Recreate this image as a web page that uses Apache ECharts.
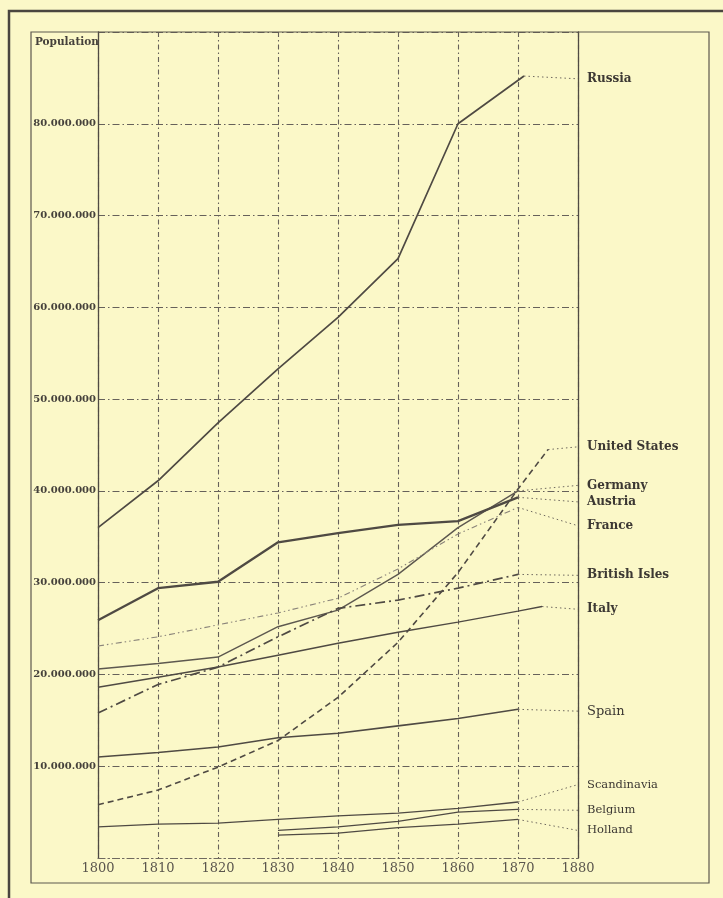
<!DOCTYPE html>
<html>
<head>
<meta charset="utf-8">
<script src="https://cdn.jsdelivr.net/npm/echarts@6/dist/echarts.min.js"></script>
<style>
  html, body { margin: 0; padding: 0; background: #fbf8c8; }
  #chart { width: 723px; height: 898px; }
</style>
</head>
<body>
<div id="chart"></div>
<script>
// Population of the principal states, 1800-1870 (millions)
const decades = [1800, 1810, 1820, 1830, 1840, 1850, 1860, 1870];
const laterDecades = [1830, 1840, 1850, 1860, 1870];

const russiaYears = [1800, 1810, 1820, 1830, 1840, 1850, 1860, 1871];
const russia = [36.0, 41.1, 47.4, 53.3, 58.9, 65.3, 80.0, 85.2];

const usYears = [1800, 1810, 1820, 1830, 1840, 1850, 1860, 1870, 1875];
const unitedStates = [5.8, 7.4, 9.9, 12.8, 17.5, 23.5, 31.1, 40.2, 44.5];

const germany = [20.6, 21.2, 21.9, 25.2, 27.0, 30.9, 36.0, 40.0];
const austria = [25.9, 29.4, 30.1, 34.4, 35.4, 36.3, 36.7, 39.3];
const france = [23.1, 24.1, 25.4, 26.7, 28.3, 31.5, 35.3, 38.2];
const britishIsles = [15.8, 18.9, 20.8, 24.1, 27.2, 28.1, 29.4, 30.9];

const italyYears = [1800, 1810, 1820, 1830, 1840, 1850, 1860, 1870, 1874];
const italy = [18.6, 19.7, 20.8, 22.1, 23.4, 24.6, 25.7, 26.9, 27.4];

const spain = [11.0, 11.5, 12.1, 13.1, 13.6, 14.4, 15.2, 16.2];
const scandinavia = [3.4, 3.7, 3.8, 4.2, 4.6, 4.9, 5.4, 6.1];
const belgium = [3.0, 3.4, 4.0, 5.0, 5.3];
const holland = [2.5, 2.7, 3.3, 3.7, 4.2];

// where each name sits in the right-hand margin (millions)
const labelNames = ['Russia', 'United States', 'Germany', 'Austria', 'France',
  'British Isles', 'Italy', 'Spain', 'Scandinavia', 'Belgium', 'Holland'];
const labelLevels = [84.9, 44.8, 40.6, 38.8, 36.2, 30.8, 27.1, 16.0, 8.0, 5.2, 3.0];

const yTicks = [0, 10, 20, 30, 40, 50, 60, 70, 80, 90];

const ink = '#4f4a43';
const soft = '#6f695f';
const serif = '"DejaVu Serif", "Liberation Serif", serif';

function pairs(xs, ys) { return xs.map((x, i) => [x, ys[i]]); }

function curve(xs, ys, lineStyle) {
  return {
    type: 'line', data: pairs(xs, ys), symbol: 'none', silent: true,
    animation: false, z: 4, lineStyle: Object.assign({ color: ink }, lineStyle)
  };
}

function leader(xs, ys, idx, lineType, bold, size) {
  const n = xs.length - 1;
  return {
    type: 'line', data: [[xs[n], ys[n]], [1880, labelLevels[idx]]],
    symbol: 'none', silent: true, animation: false, z: 3,
    lineStyle: { color: soft, width: 1, type: lineType || [1.5, 3] },
    endLabel: {
      show: true, formatter: labelNames[idx], distance: 9,
      fontFamily: serif, fontSize: size || 12, fontWeight: bold === false ? 'normal' : 'bold',
      color: '#3c3833'
    }
  };
}

function millionsText(v) {
  const s = String(Math.round(v * 1000000));
  return s.replace(/\B(?=(\d{3})+(?!\d))/g, '.');
}

const gridDash = [7, 3, 1.5, 3];

const chart = echarts.init(document.getElementById('chart'), null, { renderer: 'canvas' });
chart.setOption({
  backgroundColor: '#fbf8c8',
  animation: false,
  grid: { left: 98, right: 145, top: 32, bottom: 40 },
  xAxis: {
    type: 'value', min: 1800, max: 1880, interval: 10,
    axisLine: { show: true, lineStyle: { color: soft, width: 1.2, type: gridDash } },
    axisTick: { show: false },
    axisLabel: { color: '#5a554d', fontFamily: serif, fontSize: 13, margin: 4,
      formatter: v => String(v) },
    splitLine: { show: true, lineStyle: { color: '#66615a', width: 1.1, type: [5, 3, 1.5, 3] } }
  },
  yAxis: [{
    type: 'value', min: yTicks[0], max: yTicks[yTicks.length - 1], interval: 10,
    axisLine: { show: true, lineStyle: { color: ink, width: 1.3 } },
    axisTick: { show: false },
    axisLabel: {
      color: '#45413b', fontFamily: serif, fontSize: 10, fontWeight: 'bold', margin: 2,
      formatter: v => (v === 0 || v === 90) ? '' : millionsText(v)
    },
    splitLine: { show: true, lineStyle: { color: '#66615a', width: 1.1, type: gridDash } }
  }, {
    type: 'value', position: 'right', min: 0, max: 90, interval: 10,
    axisLine: { show: true, onZero: false, lineStyle: { color: ink, width: 1.3 } },
    axisTick: { show: false }, axisLabel: { show: false }, splitLine: { show: false }
  }],
  graphic: [
    { type: 'rect', shape: { x: 31, y: 32, width: 678, height: 851 },
      style: { fill: 'none', stroke: '#5d584f', lineWidth: 1.2 }, z: 10 },
    { type: 'polyline', shape: { points: [[9, 898], [9, 11], [723, 11]] },
      style: { fill: 'none', stroke: '#4a463f', lineWidth: 2.5 }, z: 10 },
    { type: 'text', left: 35, top: 37,
      style: { text: 'Population', fontFamily: serif, fontSize: 10.5, fontWeight: 'bold', fill: '#45413b' }, z: 10 }
  ],
  series: [
    curve(russiaYears, russia, { width: 1.7 }),
    curve(usYears, unitedStates, { width: 1.6, type: [6, 4] }),
    curve(decades, germany, { width: 1.4, color: '#5d584f' }),
    curve(decades, austria, { width: 2.3 }),
    curve(decades, france, { width: 1.1, color: '#8a847a', type: [6, 3, 1.5, 3, 1.5, 3] }),
    curve(decades, britishIsles, { width: 1.7, type: [10, 4, 2, 4] }),
    curve(italyYears, italy, { width: 1.5 }),
    curve(decades, spain, { width: 1.6 }),
    curve(decades, scandinavia, { width: 1.3 }),
    curve(laterDecades, belgium, { width: 1.2 }),
    curve(laterDecades, holland, { width: 1.2 }),

    leader(russiaYears, russia, 0),
    leader(usYears, unitedStates, 1),
    leader(decades, germany, 2),
    leader(decades, austria, 3),
    leader(decades, france, 4),
    leader(decades, britishIsles, 5),
    leader(italyYears, italy, 6),
    leader(decades, spain, 7, null, false, 13),
    leader(decades, scandinavia, 8, null, false, 11.5),
    leader(laterDecades, belgium, 9, null, false, 11.5),
    leader(laterDecades, holland, 10, null, false, 11.5)
  ]
});
</script>
</body>
</html>
